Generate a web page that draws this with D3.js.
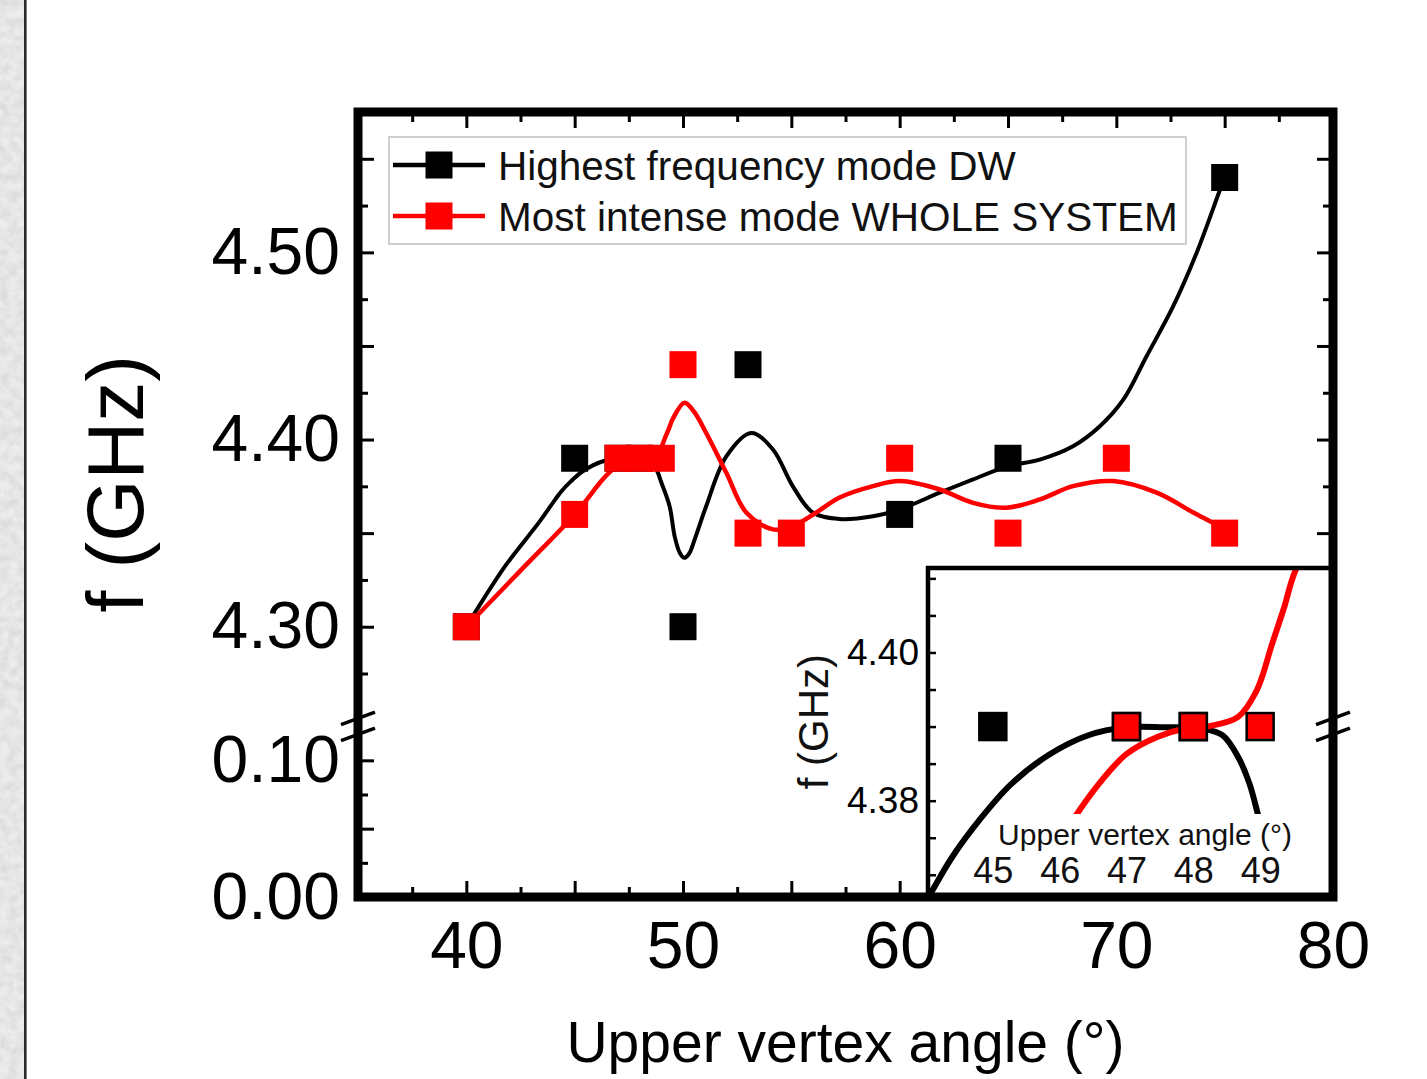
<!DOCTYPE html>
<html><head><meta charset="utf-8">
<script src="https://cdn.jsdelivr.net/npm/d3@7"></script>
<style>
html,body{margin:0;padding:0;background:#fff;}
svg{display:block;font-family:"Liberation Sans",Arial,Helvetica,sans-serif;}
</style></head><body>
<svg id="chart" width="1427" height="1079"></svg>
<script>
// ---------------- DATA ----------------
const seriesNames = ["Highest frequency mode DW", "Most intense mode WHOLE SYSTEM"];
const xTitle = "Upper vertex angle (°)";
const yTitle = "f (GHz)";

// measured points
const blackAngle = [40, 45, 47, 48, 50, 53, 60, 65, 75];
const blackFreq  = [4.30, 4.39, 4.39, 4.39, 4.30, 4.44, 4.36, 4.39, 4.54];
const redAngle   = [40, 45, 47, 48, 49, 50, 53, 55, 60, 65, 70, 75];
const redFreq    = [4.30, 4.36, 4.39, 4.39, 4.39, 4.44, 4.35, 4.35, 4.39, 4.35, 4.39, 4.35];

// smooth guide curves
const blackFitAngle = [40, 40.45, 41.83, 43.37, 44.09, 44.4, 44.81, 45.27, 45.84, 46.42, 47, 47.57, 48.15, 48.44, 48.67, 48.84, 48.98, 49.38, 49.62, 49.85, 50.05, 50.28, 50.55, 51.07, 52.0, 53.15, 54.15, 55.07, 55.99, 57.23, 58.77, 60, 61.85, 63.39, 65, 66.47, 68, 69.24, 70.32, 71.39, 72.62, 73.7, 74.78, 75];
const blackFitFreq  = [4.300, 4.3085, 4.333, 4.356, 4.3678, 4.3725, 4.3775, 4.3822, 4.3862, 4.3888, 4.3899, 4.3899, 4.3897, 4.3888, 4.3859, 4.3823, 4.3777, 4.3644, 4.3480, 4.3395, 4.3368, 4.3390, 4.3470, 4.3644, 4.391, 4.4035, 4.3947, 4.375, 4.361, 4.3575, 4.359, 4.3627, 4.3716, 4.3787, 4.3858, 4.3893, 4.3964, 4.4071, 4.4213, 4.4444, 4.4711, 4.4996, 4.5333, 4.54];
const redFitAngle = [40, 42.5, 45, 46.22, 46.59, 47, 47.46, 47.86, 48.26, 48.67, 48.95, 49.18, 49.36, 49.53, 50.07, 50.5, 51.07, 52.0, 52.92, 54.15, 55.07, 56.15, 57.23, 58.77, 60, 61.85, 63.39, 64.92, 66.47, 68, 69.86, 71.86, 73.55, 74.93, 75];
const redFitFreq  = [4.300, 4.330, 4.360, 4.3777, 4.3823, 4.3863, 4.3886, 4.3897, 4.3901, 4.3913, 4.3949, 4.4012, 4.4061, 4.4111, 4.4196, 4.415, 4.4035, 4.3822, 4.361, 4.352, 4.3538, 4.361, 4.369, 4.3751, 4.3778, 4.3733, 4.3662, 4.3636, 4.368, 4.3751, 4.3778, 4.3716, 4.361, 4.352, 4.35];

// ticks
const xMajorTicks = [35, 40, 45, 50, 55, 60, 65, 70, 75, 80];
const xMinorTicks = [37.5, 42.5, 47.5, 52.5, 57.5, 62.5, 67.5, 72.5, 77.5];
const xTickLabels = [40, 50, 60, 70, 80];
const yUpperMajorTicks = [4.30, 4.35, 4.40, 4.45, 4.50, 4.55];
const yUpperMinorTicks = [4.275, 4.325, 4.375, 4.425, 4.475, 4.525];
const yUpperTickLabels = [4.30, 4.40, 4.50];
const yLowerMajorTicks = [0.00, 0.05, 0.10];
const yLowerMinorTicks = [0.025, 0.075];
const yLowerTickLabels = [0.00, 0.10];
const insetXTickLabels = [45, 46, 47, 48, 49];
const insetYTicks = [4.370, 4.375, 4.380, 4.385, 4.390, 4.395, 4.400, 4.405, 4.410];
const insetYTickLabels = [4.380, 4.400];

// ---------------- LAYOUT ----------------
const FONT = '"Liberation Sans", Arial, Helvetica, sans-serif';
const P = {left: 358, right: 1333, top: 112, bottom: 897};
const upperBottom = 720.3, lowerTop = 733;
const INSET = {left: 928, right: 1333, top: 568, bottom: 897};

const x  = d3.scaleLinear().domain([35, 80]).range([P.left, P.right]);
const yU = d3.scaleLinear().domain([4.25, 4.575]).range([upperBottom, P.top]);
const yL = d3.scaleLinear().domain([0, 0.12]).range([P.bottom, lowerTop]);
const xi = d3.scaleLinear().domain([44.03, 50.09]).range([INSET.left, INSET.right]);
const yi = d3.scaleLinear().domain([4.367, 4.4114]).range([INSET.bottom, INSET.top]);

const BLACK = "#000000", RED = "#ff0000";
const svg = d3.select("#chart");
const defs = svg.append("defs");

// textured strip on the left
const flt = defs.append("filter").attr("id", "marble").attr("x", 0).attr("y", 0).attr("width", "100%").attr("height", "100%");
flt.append("feTurbulence").attr("type", "fractalNoise").attr("baseFrequency", "0.11").attr("numOctaves", 4).attr("seed", 5).attr("result", "n");
flt.append("feColorMatrix").attr("in", "n").attr("type", "matrix")
  .attr("values", "0 0 0 0 0.6  0 0 0 0 0.6  0 0 0 0 0.6  1.0 0 0 0 -0.3");
defs.append("clipPath").attr("id", "clipUpper").append("rect")
  .attr("x", P.left).attr("y", P.top).attr("width", P.right - P.left).attr("height", upperBottom - P.top);
defs.append("clipPath").attr("id", "clipInset").append("rect")
  .attr("x", INSET.left).attr("y", INSET.top).attr("width", INSET.right - INSET.left).attr("height", INSET.bottom - INSET.top);

svg.append("rect").attr("width", 1427).attr("height", 1079).attr("fill", "#fff");
svg.append("rect").attr("x", 0).attr("y", 0).attr("width", 24).attr("height", 1079).attr("fill", "#ececec");
svg.append("rect").attr("x", 0).attr("y", 0).attr("width", 24).attr("height", 1079).attr("filter", "url(#marble)");
svg.append("line").attr("x1", 25.3).attr("x2", 25.3).attr("y1", 0).attr("y2", 1079).attr("stroke", "#2a2a2a").attr("stroke-width", 2.6);

function styleAxis(g, size) {
  g.select(".domain").remove();
  g.attr("font-family", FONT).attr("font-size", size);
  g.selectAll(".tick line").attr("stroke", "#000").attr("stroke-width", 3);
  g.selectAll(".tick text").attr("fill", "#000");
  return g;
}
const fmt2 = d3.format(".2f");
const MAJ = 16, MIN = 10;

// ---- main axes ticks ----
styleAxis(svg.append("g").attr("transform", `translate(0,${P.bottom})`)
  .call(d3.axisBottom(x).tickValues(xMajorTicks).tickSizeInner(-MAJ).tickSizeOuter(0).tickPadding(24)
    .tickFormat(d => xTickLabels.includes(d) ? String(d) : "")), 66);
styleAxis(svg.append("g").attr("transform", `translate(0,${P.bottom})`)
  .call(d3.axisBottom(x).tickValues(xMinorTicks).tickSizeInner(-MIN).tickSizeOuter(0).tickFormat(() => "")), 10);
styleAxis(svg.append("g").attr("transform", `translate(0,${P.top})`)
  .call(d3.axisTop(x).tickValues(xMajorTicks).tickSizeInner(-MAJ).tickSizeOuter(0).tickFormat(() => "")), 10);
styleAxis(svg.append("g").attr("transform", `translate(0,${P.top})`)
  .call(d3.axisTop(x).tickValues(xMinorTicks).tickSizeInner(-MIN).tickSizeOuter(0).tickFormat(() => "")), 10);
styleAxis(svg.append("g").attr("transform", `translate(${P.left},0)`)
  .call(d3.axisLeft(yU).tickValues(yUpperMajorTicks).tickSizeInner(-MAJ).tickSizeOuter(0).tickPadding(18)
    .tickFormat(d => yUpperTickLabels.includes(d) ? fmt2(d) : "")), 66);
styleAxis(svg.append("g").attr("transform", `translate(${P.left},0)`)
  .call(d3.axisLeft(yU).tickValues(yUpperMinorTicks).tickSizeInner(-MIN).tickSizeOuter(0).tickFormat(() => "")), 10);
styleAxis(svg.append("g").attr("transform", `translate(${P.left},0)`)
  .call(d3.axisLeft(yL).tickValues(yLowerMajorTicks).tickSizeInner(-MAJ).tickSizeOuter(0).tickPadding(18)
    .tickFormat(d => yLowerTickLabels.includes(d) ? fmt2(d) : "")), 66);
styleAxis(svg.append("g").attr("transform", `translate(${P.left},0)`)
  .call(d3.axisLeft(yL).tickValues(yLowerMinorTicks).tickSizeInner(-MIN).tickSizeOuter(0).tickFormat(() => "")), 10);
[[yU, yUpperMajorTicks, MAJ], [yU, yUpperMinorTicks, MIN], [yL, yLowerMajorTicks, MAJ], [yL, yLowerMinorTicks, MIN]].forEach(([sc, tv, len]) => {
  styleAxis(svg.append("g").attr("transform", `translate(${P.right},0)`)
    .call(d3.axisRight(sc).tickValues(tv).tickSizeInner(-len).tickSizeOuter(0).tickFormat(() => "")), 10);
});

// ---- main curves ----
const curve = d3.curveCatmullRom.alpha(0.5);
const blackFit = blackFitAngle.map((a, i) => [a, blackFitFreq[i]]);
const redFit = redFitAngle.map((a, i) => [a, redFitFreq[i]]);
const mainLine = d3.line().x(d => x(d[0])).y(d => yU(d[1])).curve(curve);
const gMain = svg.append("g").attr("clip-path", "url(#clipUpper)");
gMain.append("path").attr("d", mainLine(blackFit)).attr("fill", "none").attr("stroke", BLACK).attr("stroke-width", 4);
gMain.append("path").attr("d", mainLine(redFit)).attr("fill", "none").attr("stroke", RED).attr("stroke-width", 4.5);

const blackPts = blackAngle.map((a, i) => ({a, f: blackFreq[i]}));
const redPts = redAngle.map((a, i) => ({a, f: redFreq[i]}));
const MS = 27;
[[blackPts, BLACK], [redPts, RED]].forEach(([pts, col]) => {
  svg.append("g").selectAll("rect").data(pts).join("rect")
    .attr("x", d => x(d.a) - MS / 2).attr("y", d => yU(d.f) - MS / 2)
    .attr("width", MS).attr("height", MS).attr("fill", col);
});

// ---- legend ----
const lg = svg.append("g");
lg.append("rect").attr("x", 389).attr("y", 137).attr("width", 797).attr("height", 107)
  .attr("fill", "#fff").attr("stroke", "#c4c4c4").attr("stroke-width", 1.6);
[[BLACK, 165], [RED, 216]].forEach(([col, cy], i) => {
  lg.append("line").attr("x1", 393).attr("x2", 485).attr("y1", cy).attr("y2", cy).attr("stroke", col).attr("stroke-width", 4.5);
  lg.append("rect").attr("x", 439 - MS / 2).attr("y", cy - MS / 2).attr("width", MS).attr("height", MS).attr("fill", col);
  lg.append("text").attr("x", 498).attr("y", cy + 15).attr("font-size", 40.5).attr("fill", "#111").text(seriesNames[i]);
});

// ---- inset ----
const gi = svg.append("g");
gi.append("rect").attr("x", INSET.left).attr("y", INSET.top).attr("width", INSET.right - INSET.left)
  .attr("height", INSET.bottom - INSET.top).attr("fill", "#fff");
const insetLine = d3.line().x(d => xi(d[0])).y(d => yi(d[1])).curve(curve);
const gic = gi.append("g").attr("clip-path", "url(#clipInset)");
gic.append("path").attr("d", insetLine(blackFit)).attr("fill", "none").attr("stroke", BLACK).attr("stroke-width", 6);
gic.append("path").attr("d", insetLine(redFit)).attr("fill", "none").attr("stroke", RED).attr("stroke-width", 6);

// inset x title with white backing down to the axis
const ixt = gi.append("text").attr("x", 1145).attr("y", 845).attr("text-anchor", "middle")
  .attr("font-size", 30).attr("fill", "#111").text(xTitle);
const bb = ixt.node().getBBox();
gi.insert("rect", () => ixt.node()).attr("x", bb.x - 4).attr("y", bb.y - 4)
  .attr("width", bb.width + 8).attr("height", INSET.bottom - (bb.y - 4)).attr("fill", "#fff");

// inset markers
const IMS = 27;
const inInset = d => d.a >= xi.domain()[0] && d.a <= xi.domain()[1] && d.f >= yi.domain()[0] && d.f <= yi.domain()[1];
[[blackPts, BLACK], [redPts, RED]].forEach(([pts, col]) => {
  gi.append("g").selectAll("rect").data(pts.filter(inInset)).join("rect")
    .attr("x", d => xi(d.a) - IMS / 2).attr("y", d => yi(d.f) - IMS / 2)
    .attr("width", IMS).attr("height", IMS).attr("fill", col).attr("stroke", "#000").attr("stroke-width", 2.5);
});

// inset axes
styleAxis(gi.append("g").attr("transform", `translate(0,${INSET.bottom})`)
  .call(d3.axisTop(xi).tickValues(insetXTickLabels).tickSize(0).tickPadding(14).tickFormat(d => String(d))), 36)
  .selectAll(".tick text").attr("fill", "#111");
styleAxis(gi.append("g").attr("transform", `translate(${INSET.left},0)`)
  .call(d3.axisLeft(yi).tickValues(insetYTicks).tickSizeInner(-8).tickSizeOuter(0).tickPadding(9)
    .tickFormat(d => insetYTickLabels.includes(d) ? fmt2(d) : "")), 37)
  .selectAll(".tick line").attr("stroke-width", 2.5);
gi.append("path").attr("d", `M${INSET.left},${INSET.bottom}V${INSET.top}H${INSET.right}`)
  .attr("fill", "none").attr("stroke", "#000").attr("stroke-width", 4.5);
gi.append("text").attr("transform", `translate(828,${(yi(4.40) + yi(4.38)) / 2 - 5}) rotate(-90)`)
  .attr("text-anchor", "middle").attr("font-size", 42).attr("fill", "#111").text(yTitle);

// ---- main frame ----
svg.append("rect").attr("x", P.left).attr("y", P.top).attr("width", P.right - P.left).attr("height", P.bottom - P.top)
  .attr("fill", "none").attr("stroke", "#000").attr("stroke-width", 9).attr("stroke-linejoin", "miter");

// break marks
const breakY = (upperBottom + lowerTop) / 2;
[P.left, P.right].forEach(ax => {
  [-2, 14].forEach(off => {
    svg.append("line").attr("x1", ax - 17).attr("y1", breakY + off).attr("x2", ax + 17).attr("y2", breakY + off - 12.5)
      .attr("stroke", "#000").attr("stroke-width", 3.5);
  });
});

// ---- titles ----
svg.append("text").attr("x", (P.left + P.right) / 2).attr("y", 1062).attr("text-anchor", "middle")
  .attr("font-size", 57).attr("fill", "#000").text(xTitle);
svg.append("text").attr("transform", `translate(143,484) rotate(-90)`).attr("text-anchor", "middle")
  .attr("font-size", 80).attr("fill", "#000").text(yTitle);
</script>
</body></html>
